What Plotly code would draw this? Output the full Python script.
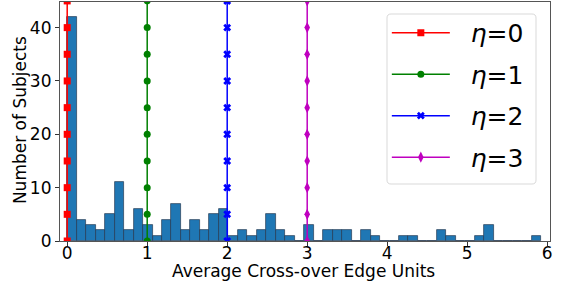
import plotly.graph_objects as go
import numpy as np

# Histogram data (50 equal bins starting at 0)
bin_start = 0.0
bin_width = 0.1185
counts = [42, 4, 3, 2, 5, 11, 2, 6, 3, 1,
          4, 7, 2, 4, 2, 5, 6, 1, 2, 1,
          2, 5, 2, 1, 0, 3, 0, 2, 2, 2,
          0, 2, 1, 0, 0, 1, 1, 0, 0, 2,
          1, 0, 0, 1, 3, 0, 0, 0, 0, 1]

# Vertical reference lines
etas = [0, 1, 2, 3]
eta_labels = ["&nbsp;&nbsp;<i>η</i>=0", "&nbsp;&nbsp;<i>η</i>=1",
              "&nbsp;&nbsp;<i>η</i>=2", "&nbsp;&nbsp;<i>η</i>=3"]
eta_colors = ["#ff0000", "#008000", "#0000ff", "#bf00bf"]
eta_symbols = ["square", "circle", "x", "diamond-tall"]
eta_sizes = [7, 7, 7, 8]
line_levels = [0, 5, 10, 15, 20, 25, 30, 35, 40, 45]

x_ticks = [0, 1, 2, 3, 4, 5, 6]
y_ticks = [0, 10, 20, 30, 40]
x_title = "Average Cross-over Edge Units"
y_title = "Number of Subjects"

centers = bin_start + bin_width * (np.arange(len(counts)) + 0.5)

FONT = "DejaVu Sans"
W, H = 564, 288
ML, MR, MT, MB = 60, 14, 2, 47
PW, PH = W - ML - MR, H - MT - MB

def px_to_paper(px, py):
    return (px - ML) / PW, (H - MB - py) / PH

def rounded_box(x0, y0, x1, y1, r):
    def p(x, y):
        a, b = px_to_paper(x, y)
        return f"{a:.5f},{b:.5f}"
    return (f"M{p(x0 + r, y0)} L{p(x1 - r, y0)} Q{p(x1, y0)} {p(x1, y0 + r)} "
            f"L{p(x1, y1 - r)} Q{p(x1, y1)} {p(x1 - r, y1)} "
            f"L{p(x0 + r, y1)} Q{p(x0, y1)} {p(x0, y1 - r)} "
            f"L{p(x0, y0 + r)} Q{p(x0, y0)} {p(x0 + r, y0)} Z")

fig = go.Figure()

def eta_trace(i):
    return go.Scatter(
        x=[etas[i]] * len(line_levels), y=line_levels,
        mode="lines+markers", name=eta_labels[i],
        line=dict(color=eta_colors[i], width=1.5),
        marker=dict(symbol=eta_symbols[i], size=eta_sizes[i], color=eta_colors[i],
                    line=dict(width=0)),
        legendgroup=str(i), legendrank=i + 1, cliponaxis=True,
    )

# magenta behind bars
fig.add_trace(eta_trace(3))
fig.add_trace(go.Bar(
    x=centers, y=counts, width=bin_width, showlegend=False,
    marker=dict(color="#1f77b4", line=dict(color="rgba(35,55,80,0.85)", width=0.8)),
))
for i in range(3):
    fig.add_trace(eta_trace(i))

fig.update_layout(
    width=W, height=H,
    margin=dict(l=ML, r=MR, t=MT, b=MB),
    plot_bgcolor="white", paper_bgcolor="white",
    font=dict(family=FONT, size=17, color="black"),
    bargap=0,
    showlegend=True,
    legend=dict(
        x=0.667, y=0.967, xanchor="left", yanchor="top",
        font=dict(family=FONT, size=25, color="black"),
        bgcolor="rgba(0,0,0,0)", borderwidth=0,
        tracegroupgap=6, itemwidth=58,
    ),
    xaxis=dict(
        range=[-0.09, 6.035], tickvals=x_ticks, ticks="outside", ticklen=4,
        tickcolor="#333", showgrid=False, zeroline=False, automargin=False,
        showline=True, linecolor="#555", linewidth=1.2, mirror=True,
        tickfont=dict(size=17), ticklabelstandoff=-8,
    ),
    yaxis=dict(
        range=[0, 44.8], tickvals=y_ticks, ticks="outside", ticklen=4,
        tickcolor="#333", showgrid=False, zeroline=False, automargin=False,
        showline=True, linecolor="#555", linewidth=1.2, mirror=True,
        tickfont=dict(size=17),
    ),
    shapes=[dict(type="path", xref="paper", yref="paper",
                 path=rounded_box(387, 14, 536, 184, 4),
                 line=dict(color="#d9d9d9", width=1), fillcolor="white",
                 layer="above")],
    annotations=[
        dict(text=x_title, xref="paper", yref="paper", x=0.497, y=-0.125,
             xanchor="center", yanchor="middle", showarrow=False,
             font=dict(family=FONT, size=17, color="black")),
        dict(text=y_title, xref="paper", yref="paper", x=-0.08, y=0.505,
             xanchor="center", yanchor="middle", showarrow=False, textangle=-90,
             font=dict(family=FONT, size=17, color="black")),
    ],
)

fig.write_html("out.html", config={"displayModeBar": False},
               post_script="document.body.style.margin='0px';")
